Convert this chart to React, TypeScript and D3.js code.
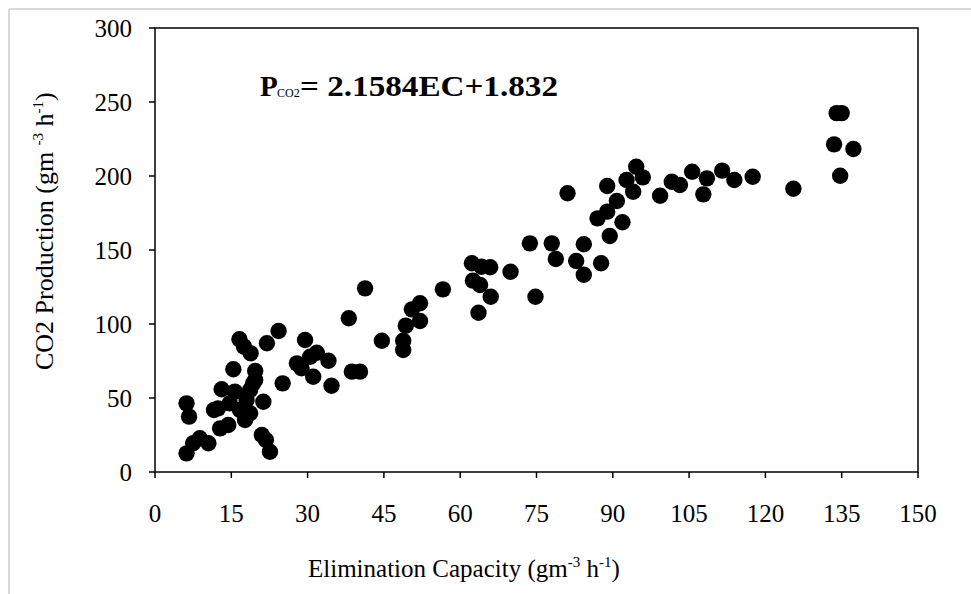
import React from "react";
import * as d3 from "d3";

const ecValues: number[] = [
  134.0, 135.0, 133.5, 137.3, 134.7, 125.5,
  94.6, 92.7, 95.9, 88.9, 81.1, 90.8, 94.0, 99.3, 101.6, 103.2, 105.6, 108.5, 107.8, 111.5, 113.9, 117.5,
  88.9, 87.0, 91.9, 89.4, 73.7, 78.0, 84.3, 78.8, 82.8, 87.7, 84.3, 69.9, 74.8,
  62.3, 64.2, 65.9, 62.5, 63.9, 66.0, 63.6, 56.6, 41.3, 38.1, 50.5, 52.1, 52.1, 49.3, 44.6, 48.8, 48.8,
  29.5, 31.8, 30.5, 28.8, 34.1, 31.1, 38.7, 40.3, 34.7,
  16.6, 17.5, 18.8, 22.0, 24.3, 27.9, 25.1, 15.4, 19.7, 19.7, 21.3, 6.2, 6.7, 13.1, 15.7, 12.4, 11.6,
  14.7, 16.7, 18.7, 19.3, 18.0, 18.7, 17.7, 12.8, 14.4, 21.0, 21.8, 22.6, 6.2, 7.5, 8.8, 10.5,
];
const co2Values: number[] = [
  242.5, 242.5, 221.4, 218.2, 200.2, 191.4,
  206.3, 197.3, 199.1, 193.2, 188.3, 183.1, 189.4, 186.7, 196.1, 193.9, 202.9, 198.4, 187.6, 203.6, 197.3, 199.5,
  175.9, 171.4, 168.7, 159.5, 154.5, 154.5, 153.9, 143.9, 142.6, 141.0, 133.3, 135.3, 118.4,
  141.0, 138.7, 138.3, 129.3, 126.4, 118.4, 107.6, 123.4, 124.1, 103.9, 109.9, 114.0, 102.0, 98.9, 88.7, 88.7, 82.4,
  89.2, 80.6, 77.9, 70.1, 75.2, 64.4, 67.8, 67.8, 58.3,
  89.7, 84.7, 80.2, 87.0, 95.3, 73.4, 59.9, 69.4, 68.2, 62.2, 47.5, 46.4, 37.4, 55.9, 54.3, 43.0, 41.9,
  46.4, 41.9, 55.4, 59.9, 48.6, 39.7, 35.1, 29.5, 31.8, 25.0, 21.6, 13.7, 12.6, 19.4, 22.8, 19.4,
];
const xTicks: number[] = [0, 15, 30, 45, 60, 75, 90, 105, 120, 135, 150];
const yTicks: number[] = [0, 50, 100, 150, 200, 250, 300];

export default function App() {
  const W = 971, H = 594;
  const left = 155, right = 918, top = 28, bottom = 472;
  const x = d3.scaleLinear().domain([0, 150]).range([left, right]);
  const y = d3.scaleLinear().domain([0, 300]).range([bottom, top]);
  const font = "'Liberation Serif', 'Times New Roman', serif";
  const pts = ecValues.map((v, i) => [v, co2Values[i]]);
  return (
    <svg width={W} height={H} style={{ position: "absolute", left: 0, top: 0, background: "#fff" }} fontFamily={font}>
      <rect x={0} y={0} width={W} height={H} fill="#fff" />
      <line x1={9} y1={9} x2={W} y2={9} stroke="#d9d9d9" strokeWidth={2} />
      <line x1={9} y1={9} x2={9} y2={H} stroke="#d9d9d9" strokeWidth={2} />
      {/* plot frame */}
      <rect x={left} y={top} width={right - left} height={bottom - top} fill="none" stroke="#000" strokeWidth={1.5} />
      {yTicks.map((t) => (
        <g key={"y" + t}>
          <line x1={left - 6} x2={left} y1={y(t)} y2={y(t)} stroke="#000" strokeWidth={1.5} />
          <text x={132} y={y(t)} dy="0.35em" textAnchor="end" fontSize={25} fill="#000">{t}</text>
        </g>
      ))}
      {xTicks.map((t) => (
        <g key={"x" + t}>
          <line x1={x(t)} x2={x(t)} y1={bottom} y2={bottom + 6} stroke="#000" strokeWidth={1.5} />
          <text x={x(t)} y={522} textAnchor="middle" fontSize={25} fill="#000">{t}</text>
        </g>
      ))}
      {pts.map((p, i) => (
        <circle key={i} cx={x(p[0])} cy={y(p[1])} r={8.2} fill="#000" />
      ))}
      <text x={308} y={577} fontSize={25} fill="#000">
        Elimination Capacity (gm<tspan fontSize={15} dy={-10}>-3</tspan><tspan dy={10}> h</tspan><tspan fontSize={15} dy={-10}>-1</tspan><tspan dy={10}>)</tspan>
      </text>
      <text transform="translate(53,370) rotate(-90)" fontSize={26} fill="#000">
        CO2 Production (gm <tspan fontSize={15} dy={-10}>-3</tspan><tspan dy={10}> h</tspan><tspan fontSize={15} dy={-10}>-1</tspan><tspan dy={10}>)</tspan>
      </text>
      <text x={260} y={96} fontSize={29} fontWeight="bold" fill="#000">P</text>
      <text x={277} y={97} fontSize={12} fill="#000">CO2</text>
      <text x={300} y={96} fontSize={29} fontWeight="bold" fill="#000" textLength={258} lengthAdjust="spacingAndGlyphs">= 2.1584EC+1.832</text>
    </svg>
  );
}
